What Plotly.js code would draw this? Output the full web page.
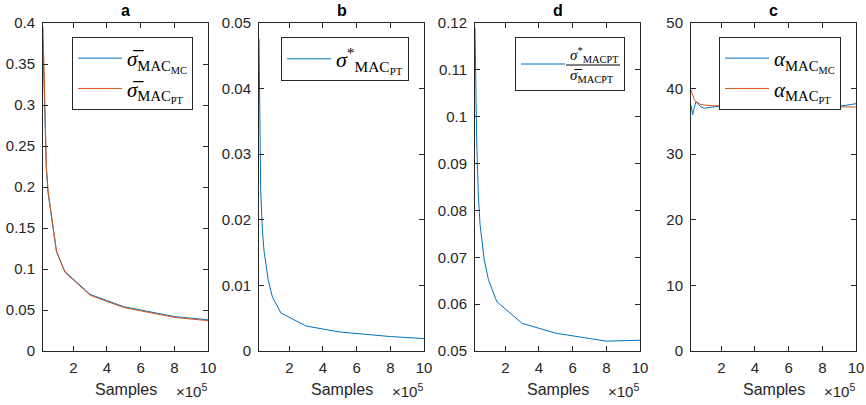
<!DOCTYPE html>
<html>
<head>
<meta charset="utf-8">
<script src="https://cdn.plot.ly/plotly-3.0.1.min.js"></script>
<style>html,body{margin:0;padding:0;background:#fff;}#chart{width:866px;height:405px;}</style>
</head>
<body>
<div id="chart"></div>
<script>
// Samples (x) shared by all panels
const samples = [2e4, 3e4, 4e4, 5e4, 7.5e4, 1e5, 1.5e5, 3e5, 5e5, 8e5, 1e6];

// Panel a: mean sigma
const sigmaBarMC = [0.370, 0.280, 0.222, 0.193, 0.154, 0.121, 0.097, 0.069, 0.054, 0.042, 0.038];
const sigmaBarPT = [0.395, 0.290, 0.225, 0.195, 0.155, 0.122, 0.096, 0.068, 0.053, 0.041, 0.037];

// Panel b: sigma* PT
const sigmaStarPT = [0.0476, 0.0245, 0.0185, 0.0152, 0.0108, 0.0082, 0.0058, 0.0038, 0.0029, 0.0022, 0.0019];

// Panel d: ratio
const ratioPT = [0.119, 0.095, 0.083, 0.077, 0.0694, 0.0652, 0.0605, 0.0559, 0.0538, 0.0521, 0.0523];

// Panel c: alpha
const alphaMC = [37.5, 36.0, 37.2, 38.0, 37.3, 37.0, 37.2, 37.6, 37.7, 36.9, 37.7];
const alphaPT = [39.8, 38.9, 38.3, 38.0, 37.6, 37.5, 37.4, 37.3, 37.3, 37.2, 37.2];

const panelTitles = ['a', 'b', 'd', 'c'];
const xTickVals = [2e5, 4e5, 6e5, 8e5, 1e6];
const xTickText = ['2', '4', '6', '8', '10'];
const yTicksA = [0, 0.05, 0.1, 0.15, 0.2, 0.25, 0.3, 0.35, 0.4];
const yTicksB = [0, 0.01, 0.02, 0.03, 0.04, 0.05];
const yTicksD = [0.05, 0.06, 0.07, 0.08, 0.09, 0.1, 0.11, 0.12];
const yTicksC = [0, 10, 20, 30, 40, 50];

const BLUE = '#0072BD', ORANGE = '#D95319', AX = '#262626';
const SANS = 'Liberation Sans, Arial, Helvetica, sans-serif';
const SERIF = 'Liberation Serif, Times New Roman, serif';

const subPT = "<sub>MAC<span style='font-size:10px'>PT</span></sub>";
const traces = [
  {x: samples, y: sigmaBarMC, xaxis: 'x', yaxis: 'y', legend: 'legend', name: '<i>σ̅</i><sub>MAC<sub>MC</sub></sub>', mode: 'lines', line: {color: BLUE, width: 1}},
  {x: samples, y: sigmaBarPT, xaxis: 'x', yaxis: 'y', legend: 'legend', name: '<i>σ̅</i><sub>MAC<sub>PT</sub></sub>', mode: 'lines', line: {color: ORANGE, width: 1}},
  {x: samples, y: sigmaStarPT, xaxis: 'x2', yaxis: 'y2', legend: 'legend2', name: '<i>σ</i><sup>*</sup><sub>MAC<sub>PT</sub></sub>', mode: 'lines', line: {color: BLUE, width: 1}},
  {x: samples, y: ratioPT, xaxis: 'x3', yaxis: 'y3', legend: 'legend3', name: '<i>σ</i><sup>*</sup>' + subPT + '<br><i>σ̅</i>' + subPT, mode: 'lines', line: {color: BLUE, width: 1}},
  {x: samples, y: alphaMC, xaxis: 'x4', yaxis: 'y4', legend: 'legend4', name: '<i>α</i><sub>MAC<sub>MC</sub></sub>', mode: 'lines', line: {color: BLUE, width: 1}},
  {x: samples, y: alphaPT, xaxis: 'x4', yaxis: 'y4', legend: 'legend4', name: '<i>α</i><sub>MAC<sub>PT</sub></sub>', mode: 'lines', line: {color: ORANGE, width: 1}}
];

const W = 866, H = 405;
const xDomains = [[43, 208], [259, 424], [475, 640], [691, 856]];
const yTop = 23, yBot = 351;
const yTickSets = [yTicksA, yTicksB, yTicksD, yTicksC];
const yRanges = [[0, 0.4], [0, 0.05], [0.05, 0.12], [0, 50]];

function xa(d, anchor) {
  return {
    domain: [d[0] / W, d[1] / W], anchor: anchor, range: [2e4, 1e6],
    tickmode: 'array', tickvals: xTickVals, ticktext: xTickText,
    ticks: 'inside', ticklen: 5, tickcolor: AX, tickwidth: 1,
    showline: true, linecolor: AX, linewidth: 1, mirror: 'ticks',
    showgrid: false, zeroline: false, ticklabelstandoff: 3,
    tickfont: {family: SANS, size: 15, color: AX}, fixedrange: true
  };
}
function ya(i, anchor) {
  const tv = yTickSets[i];
  return {
    domain: [1 - yBot / H, 1 - yTop / H], anchor: anchor, range: yRanges[i],
    tickmode: 'array', tickvals: tv, ticktext: tv.map(v => String(v)),
    ticks: 'inside', ticklen: 5, tickcolor: AX, tickwidth: 1,
    showline: true, linecolor: AX, linewidth: 1, mirror: 'ticks',
    showgrid: false, zeroline: false, ticklabelstandoff: 4,
    tickfont: {family: SANS, size: 15, color: AX}, fixedrange: true
  };
}

const annotations = [];
const shapes = [];
xDomains.forEach((d, i) => {
  const cx = (d[0] + d[1]) / 2 / W;
  annotations.push({xref: 'paper', yref: 'paper', x: cx, y: 1 - 11 / H, text: '<b>' + panelTitles[i] + '</b>', showarrow: false, xanchor: 'center', yanchor: 'middle', font: {family: SANS, size: 16, color: '#000'}});
  annotations.push({xref: 'paper', yref: 'paper', x: cx, y: 1 - 389 / H, text: 'Samples', showarrow: false, xanchor: 'center', yanchor: 'middle', font: {family: SANS, size: 16, color: AX}});
  annotations.push({xref: 'paper', yref: 'paper', x: d[1] / W + 1 / W, y: 1 - 390 / H, text: '×10<sup>5</sup>', showarrow: false, xanchor: 'right', yanchor: 'middle', font: {family: SANS, size: 15, color: AX}});
});

function leg(xr, ytop, size, bg) {
  return {x: xr / W, y: 1 - ytop / H, xanchor: 'right', yanchor: 'top', xref: 'paper', yref: 'paper',
    bgcolor: bg || '#fff', bordercolor: AX, borderwidth: 1, itemwidth: 44,
    font: {family: SERIF, size: size, color: '#000'}, traceorder: 'normal'};
}

// fraction bar for legend of panel d
shapes.push({type: 'line', layer: 'above', xref: 'paper', yref: 'paper', x0: 566 / W, x1: 620 / W, y0: 1 - 65 / H, y1: 1 - 65 / H, line: {color: '#000', width: 1}});

const layout = {
  width: W, height: H, margin: {l: 0, r: 0, t: 0, b: 0},
  paper_bgcolor: '#fff', plot_bgcolor: '#fff', showlegend: true,
  xaxis: xa(xDomains[0], 'y'), yaxis: ya(0, 'x'),
  xaxis2: xa(xDomains[1], 'y2'), yaxis2: ya(1, 'x2'),
  xaxis3: xa(xDomains[2], 'y3'), yaxis3: ya(2, 'x3'),
  xaxis4: xa(xDomains[3], 'y4'), yaxis4: ya(3, 'x4'),
  legend: leg(193, 37, 21),
  legend2: leg(409, 37, 22),
  legend3: leg(625, 37, 15, 'rgba(255,255,255,0)'),
  legend4: leg(841, 37, 21),
  annotations: annotations, shapes: shapes
};

Plotly.newPlot('chart', traces, layout, {displayModeBar: false, staticPlot: true});
</script>
</body>
</html>
